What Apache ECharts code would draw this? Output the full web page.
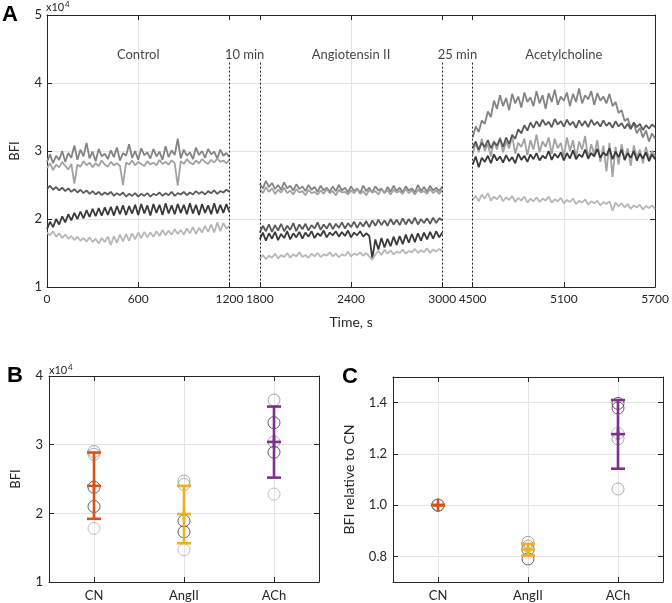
<!DOCTYPE html>
<html><head><meta charset="utf-8">
<script src="https://cdn.jsdelivr.net/npm/echarts@6/dist/echarts.min.js"></script>
<style>html,body{margin:0;padding:0;background:#fff}#c{width:672px;height:603px}</style>
</head><body><div id="c"></div>
<script>
// ---------- Panel A data (BFI in units of 1e4) ----------
const segStarts = [0, 1800, 4500];
const segLength = 1200;
const xTickLabelsA = [0, 600, 1200, 1800, 2400, 3000, 4500, 5100, 5700];
const gridTimesA = [600, 2400, 5100];
const breakTimes = [1200, 1800, 3000, 4500];
const phaseNames = ['Control', '10 min', 'Angiotensin II', '25 min', 'Acetylcholine'];
const phaseTimes = [600, 1500, 2400, 3750, 5100];

const ctlT1 = [2.84,2.95,2.82,2.93,2.87,3.00,2.84,2.97,2.90,3.08,2.87,3.02,2.92,3.12,2.89,2.99,2.85,3.03,2.92,2.96,2.88,3.01,2.91,3.05,2.86,2.97,2.93,3.10,2.90,3.00,2.87,3.04,2.94,2.98,2.89,3.03,2.92,2.99,2.87,3.07,2.91,3.01,2.94,3.18,2.89,3.02,2.93,2.98,2.88,3.05,2.94,3.00,2.90,3.03,2.95,2.99,2.89,3.02,2.93,2.97,2.91];
const ctlT2 = [2.75,2.82,2.72,2.80,2.76,2.84,2.78,2.73,2.81,2.52,2.80,2.77,2.85,2.79,2.83,2.76,2.82,2.78,2.86,2.80,2.77,2.84,2.79,2.82,2.78,2.50,2.83,2.80,2.86,2.79,2.84,2.81,2.78,2.85,2.80,2.83,2.79,2.87,2.81,2.84,2.80,2.86,2.82,2.49,2.85,2.81,2.88,2.83,2.80,2.86,2.82,2.88,2.84,2.81,2.87,2.83,2.89,2.84,2.86,2.82,2.87];
const ctlT3 = [2.44,2.49,2.43,2.47,2.42,2.46,2.41,2.45,2.40,2.44,2.39,2.43,2.38,2.42,2.37,2.41,2.36,2.40,2.35,2.39,2.36,2.40,2.34,2.38,2.35,2.39,2.33,2.37,2.34,2.38,2.33,2.37,2.34,2.38,2.33,2.37,2.35,2.39,2.34,2.38,2.35,2.40,2.34,2.38,2.36,2.40,2.35,2.39,2.36,2.41,2.37,2.40,2.36,2.41,2.38,2.42,2.37,2.41,2.39,2.43,2.40];
const ctlT4 = [1.85,1.96,1.88,2.00,1.92,2.04,1.95,2.07,1.98,2.09,2.00,2.11,2.01,2.13,2.03,2.15,2.04,2.16,2.05,2.17,2.06,2.18,2.05,2.19,2.07,2.20,2.06,2.19,2.08,2.21,2.06,2.22,2.08,2.20,2.05,2.22,2.09,2.21,2.06,2.23,2.08,2.20,2.07,2.22,2.09,2.21,2.07,2.23,2.08,2.21,2.06,2.22,2.09,2.20,2.07,2.23,2.08,2.21,2.09,2.22,2.10];
const ctlT5 = [1.80,1.76,1.82,1.74,1.79,1.72,1.77,1.71,1.75,1.69,1.74,1.68,1.72,1.67,1.73,1.66,1.71,1.64,1.72,1.66,1.74,1.62,1.75,1.65,1.77,1.67,1.78,1.68,1.79,1.70,1.80,1.72,1.81,1.73,1.80,1.74,1.82,1.75,1.84,1.76,1.83,1.77,1.85,1.78,1.84,1.77,1.86,1.79,1.88,1.78,1.87,1.80,1.90,1.81,1.92,1.80,1.95,1.82,1.94,1.86,1.90];

const angT1 = [2.52,2.45,2.56,2.47,2.53,2.44,2.50,2.43,2.54,2.45,2.49,2.42,2.51,2.44,2.48,2.41,2.50,2.43,2.47,2.40,2.49,2.42,2.46,2.40,2.48,2.41,2.50,2.42,2.46,2.39,2.48,2.41,2.45,2.38,2.49,2.41,2.46,2.39,2.48,2.42,2.45,2.38,2.47,2.40,2.49,2.41,2.46,2.39,2.48,2.42,2.45,2.39,2.50,2.41,2.47,2.40,2.49,2.42,2.46,2.41,2.48];
const angT2 = [2.44,2.38,2.47,2.40,2.45,2.37,2.43,2.39,2.46,2.38,2.42,2.36,2.44,2.39,2.41,2.35,2.43,2.38,2.40,2.36,2.42,2.37,2.44,2.38,2.41,2.35,2.43,2.39,2.40,2.36,2.42,2.38,2.44,2.37,2.41,2.35,2.43,2.39,2.41,2.36,2.44,2.38,2.42,2.36,2.43,2.39,2.41,2.37,2.44,2.38,2.42,2.36,2.43,2.39,2.41,2.37,2.44,2.38,2.42,2.37,2.43];
const angT3 = [1.80,1.90,1.82,1.92,1.81,1.91,1.83,1.93,1.82,1.90,1.84,1.94,1.82,1.92,1.85,1.93,1.83,1.91,1.86,1.95,1.84,1.92,1.86,1.94,1.85,1.93,1.87,1.95,1.86,1.94,1.88,1.96,1.87,1.95,1.89,1.97,1.88,1.98,1.90,1.99,1.91,1.98,1.90,2.00,1.92,1.99,1.91,2.01,1.92,2.00,1.93,2.02,1.92,2.00,1.94,2.01,1.93,2.02,1.94,2.01,1.98];
const angT4 = [1.70,1.80,1.68,1.79,1.71,1.81,1.69,1.78,1.72,1.82,1.70,1.79,1.73,1.81,1.71,1.80,1.74,1.82,1.72,1.79,1.75,1.83,1.73,1.80,1.76,1.82,1.74,1.81,1.75,1.83,1.73,1.80,1.76,1.82,1.74,1.79,1.75,1.42,1.70,1.55,1.72,1.58,1.71,1.60,1.74,1.62,1.75,1.63,1.77,1.65,1.78,1.66,1.79,1.68,1.80,1.70,1.81,1.71,1.82,1.73,1.80];
const angT5 = [1.42,1.47,1.41,1.46,1.43,1.49,1.42,1.47,1.44,1.50,1.43,1.48,1.45,1.51,1.44,1.47,1.43,1.49,1.45,1.50,1.44,1.48,1.46,1.51,1.45,1.49,1.44,1.48,1.46,1.52,1.45,1.49,1.47,1.51,1.46,1.50,1.45,1.40,1.48,1.53,1.47,1.55,1.49,1.54,1.48,1.52,1.50,1.55,1.49,1.53,1.51,1.56,1.50,1.54,1.51,1.57,1.50,1.55,1.52,1.56,1.53];

const achT1 = [3.20,3.36,3.28,3.45,3.40,3.58,3.50,3.74,3.62,3.82,3.66,3.78,3.60,3.84,3.70,3.80,3.64,3.86,3.72,3.79,3.66,3.88,3.70,3.82,3.62,3.85,3.72,3.90,3.68,3.80,3.74,3.86,3.66,3.84,3.72,3.92,3.70,3.82,3.76,3.88,3.68,3.85,3.74,3.80,3.70,3.84,3.66,3.72,3.56,3.60,3.44,3.48,3.34,3.40,3.26,3.34,3.20,3.30,3.14,3.26,3.18];
const achT2 = [2.95,3.12,2.98,3.18,3.00,3.10,2.92,3.15,3.02,3.20,2.98,3.14,3.04,3.22,2.96,3.12,3.06,3.18,2.94,3.16,3.02,3.24,2.98,3.14,3.06,3.20,2.96,3.18,3.04,3.12,2.92,3.20,3.00,3.16,2.90,3.14,3.02,3.22,2.88,3.10,2.95,3.16,2.84,3.08,2.70,3.12,2.62,3.06,2.80,3.10,2.86,3.04,2.78,3.08,2.90,3.02,2.82,3.06,2.88,3.00,2.92];
const achT3 = [3.05,3.14,3.02,3.12,3.06,3.16,3.04,3.13,3.08,3.18,3.06,3.20,3.10,3.24,3.18,3.32,3.26,3.38,3.30,3.42,3.34,3.44,3.36,3.46,3.38,3.43,3.35,3.47,3.39,3.44,3.36,3.46,3.38,3.43,3.34,3.45,3.37,3.44,3.35,3.46,3.38,3.43,3.36,3.45,3.37,3.42,3.34,3.44,3.36,3.41,3.33,3.40,3.32,3.42,3.35,3.40,3.31,3.38,3.33,3.39,3.35];
const achT4 = [2.80,2.92,2.76,2.90,2.84,2.93,2.82,2.95,2.86,2.92,2.83,2.94,2.85,2.91,2.82,2.96,2.87,2.93,2.84,2.95,2.88,2.97,2.86,2.93,2.89,3.00,2.87,2.96,2.90,2.98,2.86,2.97,2.89,3.01,2.88,2.95,2.91,3.02,2.89,2.97,2.92,3.03,2.90,2.98,2.93,3.04,2.88,2.99,2.91,3.02,2.87,2.97,2.90,3.00,2.86,2.96,2.89,2.98,2.85,2.95,2.88];
const achT5 = [2.28,2.34,2.26,2.36,2.30,2.38,2.27,2.33,2.29,2.35,2.26,2.32,2.28,2.34,2.25,2.31,2.27,2.33,2.24,2.30,2.26,2.32,2.25,2.30,2.27,2.33,2.24,2.29,2.26,2.31,2.23,2.28,2.25,2.30,2.22,2.27,2.24,2.29,2.21,2.26,2.23,2.27,2.20,2.25,2.22,2.26,2.12,2.24,2.19,2.23,2.17,2.22,2.15,2.20,2.17,2.21,2.14,2.19,2.16,2.20,2.15];

const subjectsA = [
  [ctlT1, angT1, achT1],
  [ctlT2, angT2, achT2],
  [ctlT3, angT3, achT3],
  [ctlT4, angT4, achT4],
  [ctlT5, angT5, achT5]
];

// ---------- Panel B / C data ----------
const groupNames = ['CN', 'AngII', 'ACh'];
const bfiCN    = [2.90, 2.86, 2.38, 2.10, 1.78];
const bfiAngII = [2.47, 2.42, 1.89, 1.73, 1.47];
const bfiACh   = [3.65, 3.04, 3.32, 2.89, 2.28];
const bfiMean  = [2.40, 1.99, 3.04];
const bfiLow   = [1.92, 1.565, 2.52];
const bfiHigh  = [2.885, 2.40, 3.555];

const relCN    = [1.0, 1.0, 1.0, 1.0, 1.0];
const relAngII = [0.855, 0.84, 0.79, 0.826, 0.824];
const relACh   = [1.259, 1.063, 1.397, 1.379, 1.281];
const relMean  = [1.0, 0.827, 1.277];
const relLow   = [1.0, 0.803, 1.142];
const relHigh  = [1.0, 0.849, 1.41];
const relTicks = [0.8, 1.0, 1.2, 1.4];

// ---------- styles ----------
const traceColors = ['#848484', '#a2a2a2', '#5a5a5a', '#3a3a3a', '#b7b7b7'];
const circleColors = ['#8f8f8f', '#9a9a9a', '#383838', '#383838', '#b0b0b0'];
const errColors = ['#D95319', '#EDB120', '#7E2F8E'];
const axisCol = '#262626';
const gridCol = '#e4e4e4';
const FONT = 'Lato';

// ---------- broken time axis mapping ----------
const realKnots = [0, 1200, 1800, 3000, 4500, 5700];
const dispKnots = [0, 1200, 1400, 2600, 2800, 4000];
function mapPw(v, from, to) {
  for (let i = 0; i < from.length - 1; i++) {
    if (v <= from[i + 1] + 1e-9) {
      const f = (v - from[i]) / (from[i + 1] - from[i]);
      return to[i] + f * (to[i + 1] - to[i]);
    }
  }
  return to[to.length - 1];
}
const toDisp = t => mapPw(t, realKnots, dispKnots);
const toReal = d => mapPw(d, dispKnots, realKnots);

const tickDispA = xTickLabelsA.map(toDisp);
const gridDispA = gridTimesA.map(toDisp);

function buildTrace(segArrays) {
  const out = [];
  segArrays.forEach((arr, s) => {
    const n = arr.length;
    arr.forEach((v, i) => {
      const t = segStarts[s] + i * segLength / (n - 1);
      out.push([toDisp(t), v]);
    });
    if (s < segArrays.length - 1) out.push([toDisp(segStarts[s] + segLength) + 100, null]);
  });
  return out;
}

const lblStyle = { color: axisCol, fontFamily: FONT, fontSize: 13 };

const series = [];
subjectsA.forEach((segs, k) => {
  series.push({
    type: 'line', xAxisIndex: 0, yAxisIndex: 0, data: buildTrace(segs),
    showSymbol: false, symbol: 'none', connectNulls: false, z: 3,
    lineStyle: { color: traceColors[k], width: 1.8 }, sampling: null
  });
});
series.push({
  type: 'scatter', xAxisIndex: 0, yAxisIndex: 0, symbolSize: 1, silent: true, z: 5,
  itemStyle: { color: 'rgba(0,0,0,0)' },
  data: phaseNames.map((n, i) => ({ name: n, value: [toDisp(phaseTimes[i]), 4.42] })),
  label: { show: true, position: 'inside', formatter: '{b}', color: '#111', fontFamily: FONT, fontSize: 13 },
  markLine: {
    silent: true, symbol: 'none', label: { show: false },
    lineStyle: { color: '#222', type: [2, 2], width: 1 },
    data: breakTimes.map(t => [{ coord: [toDisp(t), 4.3] }, { coord: [toDisp(t), 1] }])
  }
});

function circleSeries(xIdx, yIdx, groups) {
  const data = [];
  groups.forEach((vals, g) => vals.forEach((v, j) => data.push({
    value: [g, v], itemStyle: { borderColor: circleColors[j] }
  })));
  return {
    type: 'scatter', xAxisIndex: xIdx, yAxisIndex: yIdx, symbol: 'circle', symbolSize: 12, z: 3,
    itemStyle: { color: 'rgba(0,0,0,0)', borderWidth: 1 }, data
  };
}
function renderErr(params, api) {
  const x = api.value(0), m = api.value(1), lo = api.value(2), hi = api.value(3);
  const pM = api.coord([x, m]), pL = api.coord([x, lo]), pH = api.coord([x, hi]);
  const st = { stroke: errColors[params.dataIndex], lineWidth: 2.6, fill: null };
  const w = 7;
  return { type: 'group', children: [
    { type: 'line', shape: { x1: pL[0], y1: pL[1], x2: pH[0], y2: pH[1] }, style: st },
    { type: 'line', shape: { x1: pL[0] - w, y1: pL[1], x2: pL[0] + w, y2: pL[1] }, style: st },
    { type: 'line', shape: { x1: pH[0] - w, y1: pH[1], x2: pH[0] + w, y2: pH[1] }, style: st },
    { type: 'line', shape: { x1: pM[0] - w, y1: pM[1], x2: pM[0] + w, y2: pM[1] }, style: st },
    { type: 'line', shape: { x1: pM[0], y1: pM[1] - 6, x2: pM[0], y2: pM[1] + 6 }, style: st }
  ]};
}
function errSeries(xIdx, yIdx, mean, lo, hi) {
  return {
    type: 'custom', xAxisIndex: xIdx, yAxisIndex: yIdx, z: 4, renderItem: renderErr,
    data: mean.map((m, i) => [i, m, lo[i], hi[i]])
  };
}
series.push(circleSeries(3, 2, [bfiCN, bfiAngII, bfiACh]));
series.push(errSeries(3, 2, bfiMean, bfiLow, bfiHigh));
series.push(circleSeries(5, 4, [relCN, relAngII, relACh]));
series.push(errSeries(5, 4, relMean, relLow, relHigh));

const line = { onZero: false, lineStyle: { color: axisCol, width: 1 } };
const tickIn = (vals) => ({ show: true, inside: true, length: 5, lineStyle: { color: axisCol }, customValues: vals });
const tickY = { show: true, inside: true, length: 5, lineStyle: { color: axisCol } };

const option = {
  animation: false,
  backgroundColor: '#fff',
  grid: [
    { left: 46, top: 15, width: 614, height: 272 },
    { left: 49, top: 376, width: 270, height: 206 },
    { left: 393, top: 377, width: 270, height: 205 }
  ],
  xAxis: [
    { gridIndex: 0, type: 'value', min: 0, max: 4000, position: 'bottom',
      axisLine: line, axisTick: tickIn(tickDispA), splitLine: { show: false },
      axisLabel: { customValues: tickDispA, margin: 6, color: axisCol, fontFamily: FONT, fontSize: 12,
        formatter: v => String(Math.round(toReal(v))) },
      name: 'Time, s', nameLocation: 'middle', nameGap: 28,
      nameTextStyle: { color: axisCol, fontFamily: FONT, fontSize: 14 } },
    { gridIndex: 0, type: 'value', min: 0, max: 4000, position: 'top',
      axisLine: line, axisTick: tickIn(tickDispA), axisLabel: { show: false }, splitLine: { show: false } },
    { gridIndex: 0, type: 'value', min: 0, max: 4000, position: 'bottom',
      axisLine: { show: false, onZero: false }, axisTick: { show: false, customValues: gridDispA },
      axisLabel: { show: false }, splitLine: { show: true, lineStyle: { color: gridCol } } },
    { gridIndex: 1, type: 'value', min: -0.5, max: 2.5, position: 'bottom',
      axisLine: line, axisTick: tickIn([0, 1, 2]),
      axisLabel: Object.assign({ customValues: [0, 1, 2], margin: 7, formatter: v => groupNames[Math.round(v)] }, lblStyle),
      splitLine: { show: true, lineStyle: { color: gridCol } } },
    { gridIndex: 1, type: 'value', min: -0.5, max: 2.5, position: 'top',
      axisLine: line, axisTick: tickIn([0, 1, 2]), axisLabel: { show: false }, splitLine: { show: false } },
    { gridIndex: 2, type: 'value', min: -0.5, max: 2.5, position: 'bottom',
      axisLine: line, axisTick: tickIn([0, 1, 2]),
      axisLabel: Object.assign({ customValues: [0, 1, 2], margin: 7, formatter: v => groupNames[Math.round(v)] }, lblStyle),
      splitLine: { show: true, lineStyle: { color: gridCol } } },
    { gridIndex: 2, type: 'value', min: -0.5, max: 2.5, position: 'top',
      axisLine: line, axisTick: tickIn([0, 1, 2]), axisLabel: { show: false }, splitLine: { show: false } }
  ],
  yAxis: [
    { gridIndex: 0, type: 'value', min: 1, max: 5, interval: 1, position: 'left',
      axisLine: line, axisTick: tickY,
      axisLabel: Object.assign({ margin: 5 }, lblStyle),
      splitLine: { show: true, lineStyle: { color: gridCol } },
      name: 'BFI', nameLocation: 'middle', nameGap: 26,
      nameTextStyle: { color: axisCol, fontFamily: FONT, fontSize: 13 } },
    { gridIndex: 0, type: 'value', min: 1, max: 5, interval: 1, position: 'right',
      axisLine: line, axisTick: tickY, axisLabel: { show: false }, splitLine: { show: false } },
    { gridIndex: 1, type: 'value', min: 1, max: 4, interval: 1, position: 'left',
      axisLine: line, axisTick: tickY,
      axisLabel: Object.assign({ margin: 6 }, lblStyle),
      splitLine: { show: true, lineStyle: { color: gridCol } },
      name: 'BFI', nameLocation: 'middle', nameGap: 27,
      nameTextStyle: { color: axisCol, fontFamily: FONT, fontSize: 13 } },
    { gridIndex: 1, type: 'value', min: 1, max: 4, interval: 1, position: 'right',
      axisLine: line, axisTick: tickY, axisLabel: { show: false }, splitLine: { show: false } },
    { gridIndex: 2, type: 'value', min: 0.7, max: 1.5, position: 'left',
      axisLine: line, axisTick: tickIn(relTicks),
      axisLabel: Object.assign({ customValues: relTicks, margin: 6, formatter: v => v.toFixed(1) }, lblStyle),
      splitLine: { show: true, lineStyle: { color: gridCol } },
      name: 'BFI relative to CN', nameLocation: 'middle', nameGap: 37,
      nameTextStyle: { color: axisCol, fontFamily: FONT, fontSize: 14 } },
    { gridIndex: 2, type: 'value', min: 0.7, max: 1.5, position: 'right',
      axisLine: line, axisTick: tickIn(relTicks), axisLabel: { show: false }, splitLine: { show: false } }
  ],
  graphic: [
    { type: 'text', left: 2, top: 4, style: { text: 'A', font: 'bold 22px "Liberation Sans"', fill: '#000' } },
    { type: 'text', left: 46, top: 2, style: { text: 'x10', font: '11px Lato', fill: axisCol } },
    { type: 'text', left: 65, top: 0, style: { text: '4', font: '8px Lato', fill: axisCol } },
    { type: 'text', left: 7, top: 365, style: { text: 'B', font: 'bold 22px "Liberation Sans"', fill: '#000' } },
    { type: 'text', left: 49, top: 365, style: { text: 'x10', font: '11px Lato', fill: axisCol } },
    { type: 'text', left: 68, top: 363, style: { text: '4', font: '8px Lato', fill: axisCol } },
    { type: 'text', left: 342, top: 366, style: { text: 'C', font: 'bold 22px "Liberation Sans"', fill: '#000' } }
  ],
  series
};
const chart = echarts.init(document.getElementById('c'), null, { renderer: 'canvas' });
chart.setOption(option);
</script></body></html>
